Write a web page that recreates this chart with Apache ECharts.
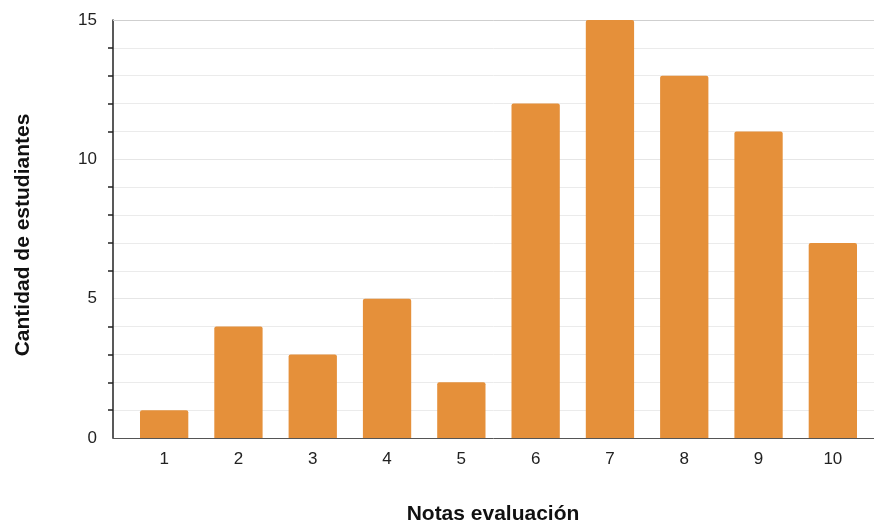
<!DOCTYPE html>
<html><head><meta charset="utf-8">
<script src="https://cdn.jsdelivr.net/npm/echarts@6/dist/echarts.min.js"></script>
<style>html,body{margin:0;padding:0;background:#fff}#c{width:874px;height:526px}</style>
</head><body><div id="c"></div>
<script>
const categories = ['1','2','3','4','5','6','7','8','9','10'];
const values = [1,4,3,5,2,12,15,13,11,7];
const yTickLabels = [0,5,10,15];
const xTitle = 'Notas evaluación';
const yTitle = 'Cantidad de estudiantes';

const chart = echarts.init(document.getElementById('c'));
chart.setOption({
  animation: false,
  textStyle: { fontFamily: 'Liberation Sans, Arial, sans-serif' },
  grid: [
    { left: 113, right: 0, top: 20, bottom: 88 },
    { left: 127, right: 4, top: 20, bottom: 88 }
  ],
  xAxis: [
    { gridIndex: 0, type: 'value', min: 0, max: 1,
      axisLine: { show: true, onZero: false, lineStyle: { color: '#555', width: 1 } },
      axisTick: { show: false }, axisLabel: { show: false }, splitLine: { show: false } },
    { gridIndex: 1, type: 'category', data: categories,
      axisLine: { show: false }, axisTick: { show: false },
      axisLabel: { color: '#222', fontSize: 17, margin: 13 } }
  ],
  yAxis: [
    { gridIndex: 0, type: 'value', min: 0, max: 15, interval: 5,
      axisLine: { show: true, lineStyle: { color: '#222', width: 1.5 } },
      axisTick: { show: false },
      minorTick: { show: true, splitNumber: 5, length: 5, lineStyle: { color: '#222', width: 1.5 } },
      minorSplitLine: { show: true, lineStyle: { color: '#ebebeb' } },
      splitLine: { show: true, lineStyle: { color: '#e6e6e6' } },
      axisLabel: { color: '#222', fontSize: 17, margin: 16,
        formatter: v => yTickLabels.includes(v) ? String(v) : '' } },
    { gridIndex: 1, type: 'value', min: 0, max: 15, show: false }
  ],
  graphic: [
    { type: 'line', shape: { x1: 113, y1: 20.5, x2: 874, y2: 20.5 }, style: { stroke: '#cfcfcf', lineWidth: 1 }, z: 1 },
    { type: 'text', style: { text: xTitle, font: 'bold 21px Liberation Sans, Arial, sans-serif', fill: '#111', textAlign: 'center', textVerticalAlign: 'middle' }, position: [493, 514] },
    { type: 'text', style: { text: yTitle, font: 'bold 21px Liberation Sans, Arial, sans-serif', fill: '#111', textAlign: 'center', textVerticalAlign: 'middle' }, position: [23, 235], rotation: Math.PI / 2 }
  ],
  series: [{
    type: 'bar', xAxisIndex: 1, yAxisIndex: 1, data: values,
    barWidth: '65%',
    itemStyle: { color: '#e5903a', borderRadius: [2, 2, 0, 0] }
  }]
});
</script></body></html>
